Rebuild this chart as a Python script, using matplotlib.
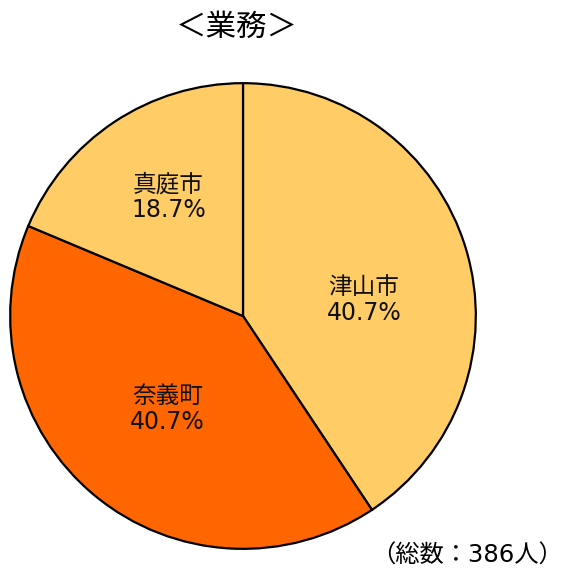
import matplotlib
matplotlib.use("Agg")
import matplotlib.pyplot as plt

plt.rcParams["font.family"] = ["DejaVu Sans", "Noto Sans CJK JP"]

# data
labels = ["津山市", "奈義町", "真庭市"]
shares = [40.7, 40.7, 18.7]
colors = ["#FFCC66", "#FF6600", "#FFCC66"]
title = "＜業務＞"
total_note = "（総数：386人）"

# label anchor points inside each wedge (data units, radius = 1)
label_pos = [(0.52, 0.07), (-0.325, -0.40), (-0.32, 0.51)]

W, H = 564, 578
fig = plt.figure(figsize=(W / 100, H / 100), dpi=100)
fig.patch.set_facecolor("white")

cx, cy, r = 243, 316, 234
ax = fig.add_axes([(cx - r) / W, (H - cy - r) / H, 2 * r / W, 2 * r / H])
ax.pie(shares, colors=colors, startangle=90, counterclock=False, radius=1,
       wedgeprops=dict(edgecolor="black", linewidth=1.6))
ax.set_xlim(-1.005, 1.005)
ax.set_ylim(-1.005, 1.005)
ax.set_aspect("auto")
ax.axis("off")

for name, val, (x, y) in zip(labels, shares, label_pos):
    ax.text(x, y, f"{name}\n{val:.1f}%", ha="center", va="center",
            fontsize=17, linespacing=1.12, color="#111111")

fig.text(237 / W, 1 - 27 / H, title, ha="center", va="center", fontsize=22)
fig.text(563 / W, 1 - 556 / H, total_note, ha="right", va="center", fontsize=17.5)

fig.savefig("out.png", dpi=100)
